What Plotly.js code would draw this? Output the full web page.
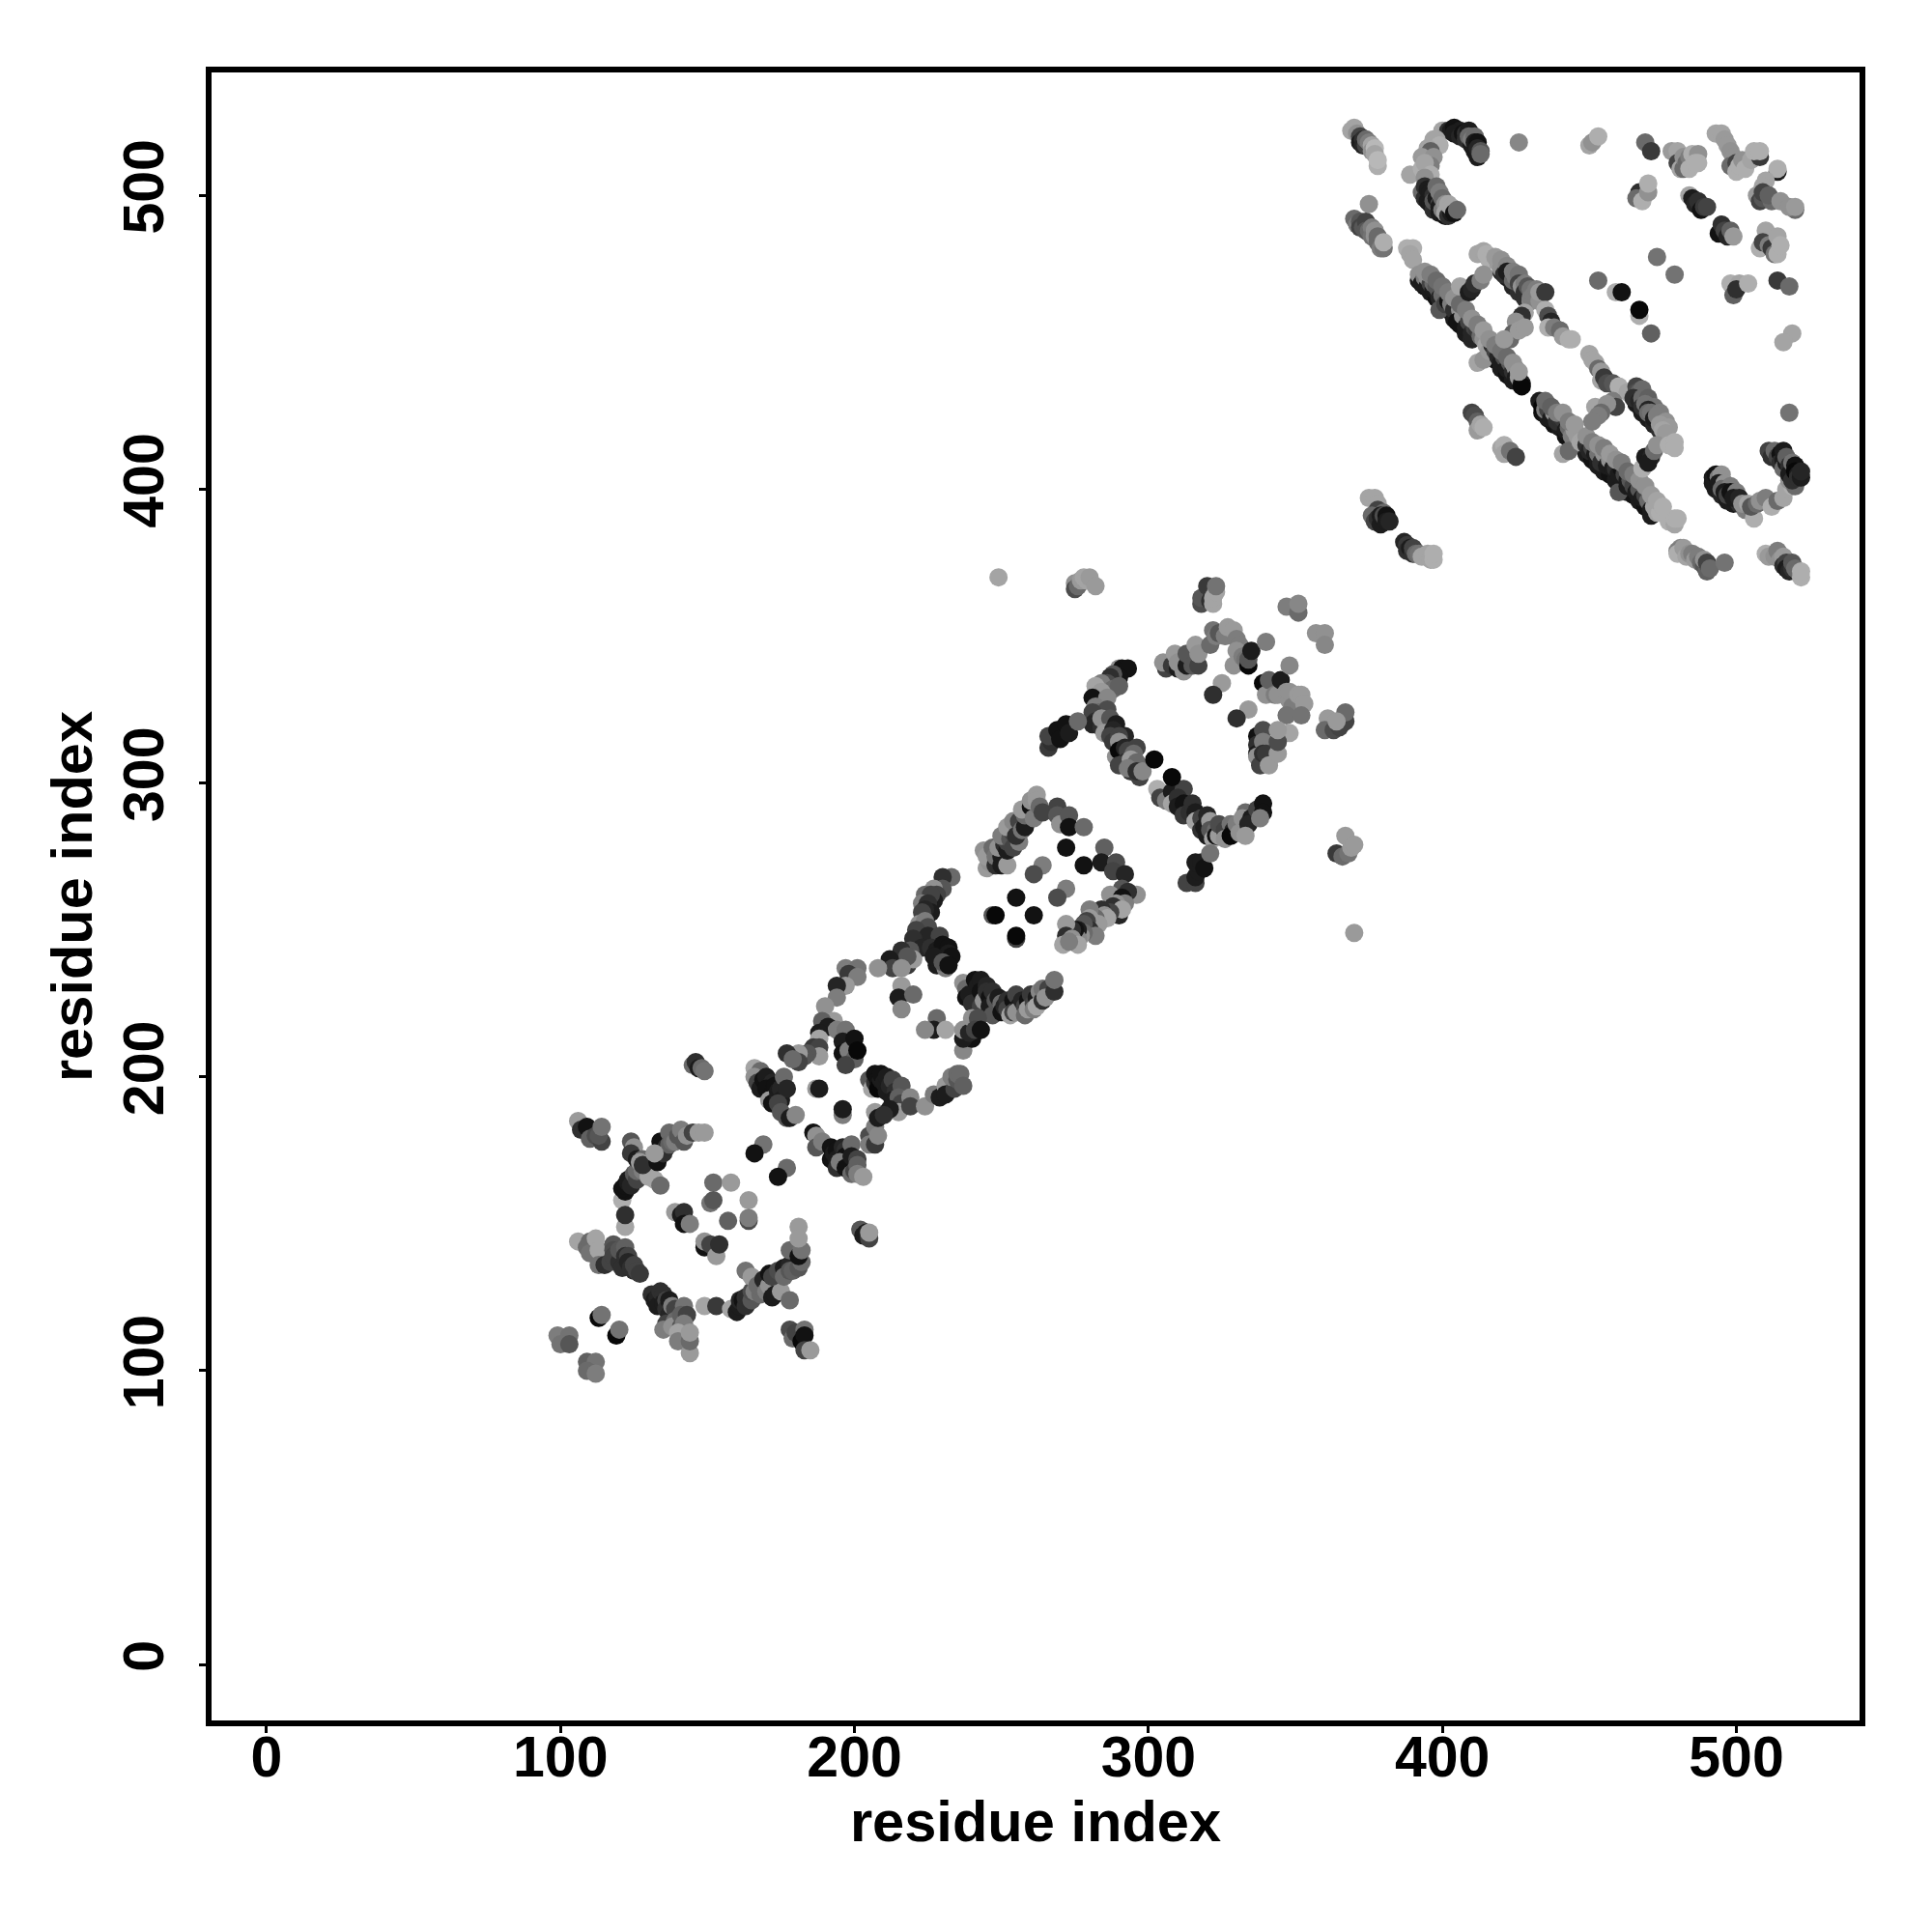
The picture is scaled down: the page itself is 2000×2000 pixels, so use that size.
<!DOCTYPE html>
<html><head><meta charset="utf-8">
<script src="https://cdn.plot.ly/plotly-3.0.1.min.js"></script>
<style>html,body{margin:0;padding:0;background:#fff}</style></head>
<body><div id="plot" style="width:2000px;height:2000px"></div>
<script>
// each row: residue i, residue j, shade score (0 dark .. 1 light)
const tailA=[[369,522,.8],[370,523,.8],[371,521,.7],[372,520,.3],[372,518,.1],[373,519,.2],[373,517,.15],[374,517,.3],[374,519,.5],[375,518,.6],[376,517,.8],[376,515,.7],[378,510,.85],[377,516,.9],[377,514,.8],[378,512,.9]];
const capTop=[[400,522,.8],[402,522,.2],[403,522,.1],[404,523,.05],[405,522,.05],[406,522,.1],[404,521,.1],[406,520,.15],[407,521,.05],[408,521,.2],[408,519,.2],[409,522,.1],[409,520,.5],[410,517,.1],[410,519,.6],[411,520,.5],[411,515,.1],[411,518,.1],[412,518,.05],[412,513,.1],[412,516,.15],[413,515,.4],[413,514,.5]];
const capSide=[[398,519,.8],[397,519,.8],[399,517,.85],[395,516,.8],[396,515,.45],[393,513,.75],[397,513,.7],[396,510,.6],[389,507,.8],[393,509,.85],[394,511,.8],[396,507,.85],[394,506,.7]];
const capLow=[[393,501,.5],[394,499,.2],[395,498,.1],[396,497,.1],[397,495,.2],[399,494,.1],[401,493,.05],[394,503,.2],[395,502,.1],[396,501,.1],[397,500,.2],[397,498,.4],[398,499,.1],[398,503,.5],[399,497,.3],[399,496,.1],[399,501,.6],[400,499,.5],[400,495,.6],[401,497,.7],[401,494,.8],[402,493,.2],[403,494,.1],[402,497,.8],[403,496,.8],[404,494,.05],[405,495,.5]];
const tailB=[[375,497,.7],[370,492,.5],[371,490,.6],[372,491,.4],[372,489,.3],[373,489,.4],[374,491,.3],[374,488,.4],[375,488,.5],[376,489,.6],[376,486,.55],[377,488,.7],[377,486,.7],[378,484,.5],[378,486,.5],[379,482,.6],[380,482,.55],[380,484,.85]];
const edgeDarkA=[[392,471,.1],[394,469,.05],[396,467,.1],[398,465,.05],[400,463,.1],[402,461,.05],[404,458,.1],[406,456,.05],[408,453,.1],[410,451,.15],[416,446,.1],[418,444,.05],[420,441,.1],[422,439,.05],[424,437,.1],[434,426,.05],[436,424,.1],[438,422,.05],[440,421,.1],[442,418,.05],[449,412,.1],[451,410,.05],[453,408,.1],[455,406,.1],[457,405,.05],[459,403,.1],[461,402,.1],[463,399,.1],[465,398,.05],[467,396,.1],[469,394,.05],[471,391,.1]];
const strandA1=[[388,482,.85],[390,482,.85],[389,480,.8],[390,478,.8],[392,473,.7],[393,470,.1],[394,472,.6],[395,469,.1],[395,472,.7],[396,470,.3],[397,468,.1],[397,470,.5],[398,469,.4],[399,467,.4],[399,465,.15],[400,466,.5],[399,461,.4],[401,463,.3],[402,464,.05],[403,463,.6],[404,461,.2],[405,462,.2],[406,461,.7],[405,457,.05],[407,459,.7],[408,455,.1],[409,457,.3],[410,453,.15],[411,455,.3],[412,454,.25],[412,443,.8],[414,444,.7],[413,452,.5],[414,451,.7],[415,449,.8],[416,447,.75],[417,449,.2],[418,447,.3],[419,445,.15],[420,443,.1],[421,445,.35],[422,441,.1],[423,443,.4],[424,440,.2],[425,441,.7],[425,438,.1],[426,438,.75],[427,436,.1],[427,435,0]];
const edgeLightA1=[[394,474,.7],[396,473,.6],[398,471,.5],[400,469,.55],[402,467,.6],[404,465,.7],[406,463,.5],[408,461,.6],[410,458,.7],[412,456,.6],[414,454,.75],[416,451,.7],[418,449,.6],[420,447,.55],[422,445,.5],[424,443,.7],[426,440,.75]];
const strandA2=[[433,430,.1],[434,428,0],[435,427,.6],[436,427,.3],[437,424,.1],[438,426,.7],[439,423,.2],[440,424,.2],[441,424,.25],[442,420,.1],[443,421,.5],[444,418,.6],[441,412,.8],[443,413,.5],[445,420,.75],[446,418,.75],[447,416,.8],[448,417,.8],[449,415,.2],[450,413,.15],[451,414,.3],[452,412,.1],[453,410,.1],[453,412,.55],[454,409,.2],[455,412,.7],[456,408,.1],[457,410,.7],[458,407,.1],[459,407,.2],[460,399,.4],[460,405,.1],[461,407,.05],[462,405,.3],[463,403,.1],[463,401,.1],[464,403,.4],[465,401,.3],[466,399,.1],[467,400,.4],[468,397,.1],[469,398,.3],[470,396,.5],[471,393,.1],[472,394,.8],[473,392,.8],[474,392,.85],[477,389,.85],[479,388,.8],[479,390,.85],[480,390,.85]];
const edgeLightA2=[[435,430,.5],[437,428,.45],[439,426,.6],[441,426,.7],[443,423,.6],[445,422,.75],[449,418,.7],[451,416,.6],[453,415,.7],[455,414,.6],[457,412,.75],[459,410,.7],[461,409,.6],[463,406,.5],[465,405,.6],[467,403,.7],[469,401,.7],[471,398,.75],[473,396,.8],[475,394,.85]];
const strandB1=[[412,480,.8],[414,481,.8],[415,480,.85],[416,478,.85],[420,474,.15],[422,472,.1],[424,469,.15],[426,467,.2],[428,465,.2],[419,477,.75],[418,479,.75],[420,475,.7],[420,478,.7],[421,473,.2],[422,476,.65],[423,473,.1],[422,474,.1],[424,471,.5],[424,474,.6],[425,472,.6],[426,473,.55],[426,470,.3],[427,469,.7],[428,470,.6],[428,467,.2],[429,469,.4],[430,464,.7],[430,468,.55],[430,465,.6],[431,466,.6],[432,468,.6],[433,464,.7],[433,467,.75],[435,467,.25]];
const linkB1=[[406,469,.8],[409,467,.1],[410,468,.15],[411,470,.2],[413,471,.6],[414,473,.7]];
const linkB2=[[428,460,.8],[427,459,.2],[425,457,.7],[424,453,.45],[423,451,.5],[421,451,.75],[426,454,.75],[428,455,.75]];
const strandB2=[[435,461,.85],[436,459,.35],[437,457,.15],[436,455,.85],[438,455,.6],[440,454,.5],[441,452,.75],[443,451,.85],[444,451,.85]];
const strandC=[[466,429,.1],[468,426,.1],[470,424,.1],[472,422,.15],[474,420,.2],[450,446,.8],[451,444,.8],[452,443,.8],[453,441,.5],[454,440,.75],[454,437,.8],[455,438,.25],[456,436,.35],[458,436,.4],[460,435,.85],[463,433,.8],[466,435,.3],[466,433,.35],[467,433,.45],[468,434,.5],[465,431,.2],[467,430,.15],[468,431,.5],[470,431,.45],[468,428,.2],[469,429,.55],[472,428,.55],[470,427,.15],[470,426,.5],[471,426,.55],[474,426,.6],[472,424,.1],[473,425,.6],[476,423,.7],[474,422,.75],[477,421,.75],[475,420,.8],[476,419,.75]];
const linkC=[[468,407,.85],[469,411,.1],[471,411,.15],[470,409,.1],[472,413,.5],[473,415,.7],[477,415,.85],[479,416,.85],[479,414,.85],[452,428,.8],[458,430,.6],[459,428,.3],[456,429,.7],[454,426,.5],[453,425,.6],[451,423,.6]];
const patchD=[[410,426,.3],[411,425,.35],[412,423,.45],[412,420,.75],[413,422,.8],[414,421,.85],[420,414,.8],[421,415,.85],[421,412,.8],[423,413,.55],[425,411,.3]];
const patchE=[[375,397,.8],[377,397,.8],[378,395,.8],[378,393,.3],[380,392,.5],[376,391,.5],[377,389,.3],[378,390,.2],[379,388,.1],[379,391,.1],[380,391,.35],[381,391,.05],[381,389,.1],[382,389,.15],[387,382,.15],[388,381,.25],[388,379,.2],[389,380,.1],[390,378,.2],[390,380,.3],[391,378,.5],[392,378,.55],[393,377,.8],[395,378,.8],[396,376,.8],[397,376,.85],[397,378,.85]];
const cornerSparse=[[426,518,.65],[450,517,.8],[451,518,.7],[453,520,.85],[469,518,.5],[471,515,.25],[467,501,.2],[466,499,.5],[468,498,.85],[470,501,.7],[470,504,.85],[473,479,.55],[479,473,.55],[453,471,.5],[459,467,.85],[461,467,.05],[467,459,.85],[467,461,0],[471,453,.45],[514,471,.25],[518,469,.5],[498,470,.85],[501,470,.8],[499,466,.45],[500,468,.2],[504,470,.85],[519,453,.8],[516,450,.8],[518,426,.55]];
const cornerTop=[[478,515,.75],[480,515,.8],[480,511,.3],[481,509,.8],[482,509,.5],[482,513,.7],[483,511,.5],[484,513,.6],[484,509,.85],[485,514,.85],[487,514,.7],[486,511,.85],[487,511,.85],[493,521,.8],[495,521,.8],[496,519,.75],[497,517,.75],[498,515,.7],[499,513,.7],[498,510,.5],[500,511,.3],[500,508,.85],[501,510,.85],[502,512,.7],[503,509,.85],[505,512,.8],[508,513,.25],[506,515,.85],[508,515,.85]];
const cornerRight=[[514,508,.1],[514,509,.85],[510,505,.8],[509,503,.8],[507,500,.75],[508,498,.3],[509,499,.4],[509,501,.3],[512,498,.5],[511,500,.45],[515,498,.7],[520,495,.5],[518,496,.7],[520,496,.75],[484,500,.8],[485,499,.1],[486,497,.15],[487,498,.2],[488,495,.05],[489,496,.25],[490,496,.3],[494,487,.05],[495,490,.2],[496,488,.3],[497,486,.15],[498,488,.45],[499,486,.75],[510,488,.8],[508,482,.85],[509,484,.3],[511,483,.6],[512,482,.25],[513,480,.55],[514,486,.8],[514,480,.85],[515,483,.85]];
const hookJ=[[492,402,.1],[493,400,.1],[495,398,.15],[497,396,.1],[499,395,.1],[501,395,.2],[503,393,.6],[492,404,.1],[493,405,.05],[494,404,.6],[495,405,.7],[494,402,.1],[496,402,.7],[495,400,.5],[498,401,.6],[496,399,.1],[497,398,.3],[498,399,.05],[500,399,.6],[499,397,.1],[501,397,.15],[506,390,.85],[502,395,.7],[504,395,.8],[505,394,.4],[507,395,.5],[508,396,.7],[510,397,.6],[512,394,.85],[514,396,.5],[516,397,.8],[517,400,.8],[519,401,.85],[511,413,.3],[512,411,.2],[513,413,.5],[514,411,.3],[515,412,.05],[515,409,.2],[516,410,.1],[516,407,.5],[516,413,.1],[517,409,.1],[517,411,.45],[518,408,.2],[518,403,.7],[518,405,.1],[520,401,.5],[519,403,.2],[519,409,.55],[520,408,.05],[520,406,0],[521,405,.1],[521,404,.2],[522,404,.1],[522,406,.15]];
const cornerLow=[[481,380,.65],[480,379,.6],[480,378,.85],[482,380,.75],[483,377,.8],[484,378,.7],[485,378,.6],[486,376,.75],[487,377,.6],[488,375,.5],[489,374,.4],[489,376,.7],[490,372,.45],[490,375,.3],[491,373,.5],[496,375,.55],[510,378,.85],[511,377,.75],[513,377,.7],[514,379,.6],[515,376,.7],[516,377,.75],[516,374,.2],[517,375,.3],[517,373,.1],[518,372,.15],[519,373,.2],[519,375,.4],[520,373,.5],[521,372,.5],[522,370,.85],[522,372,.85]];
const midTop=[[249,370,.8],[275,368,.7],[275,366,.35],[276,367,.5],[277,369,.75],[278,370,.8],[279,369,.8],[280,370,.75],[282,367,.75],[318,361,.35],[318,363,.4],[320,367,.25],[321,362,.2],[322,361,.8],[322,363,.8],[323,365,.8],[323,367,.55],[347,360,.6],[351,358,.5],[351,361,.65],[357,351,.7],[360,351,.7],[360,347,.65],[348,340,.65],[325,334,.75],[322,330,.2],[334,325,.75],[330,322,.2]];
const midArc=[[306,339,.3],[305,341,.7],[308,340,.25],[309,344,.75],[310,339,.1],[310,341,.7],[312,338,.7],[313,340,.1],[313,344,.4],[315,340,.4],[317,340,.3],[316,347,.75],[317,344,.7],[321,347,.5],[322,352,.55],[323,350,.6],[324,351,.4],[326,350,.6],[327,353,.75],[329,352,.75],[330,349,.6],[331,347,.6],[330,345,.7],[329,340,.7],[332,343,.6],[333,342,.55],[334,340,0],[334,342,.4],[335,345,.1],[340,348,.6]];
const midRight=[[339,334,0],[340,330,.7],[341,335,.45],[343,330,.6],[344,330,.7],[345,335,.1],[347,331,.7],[348,328,.7],[348,331,.7],[349,326,.6],[351,330,.75],[352,330,.75],[353,327,.75],[347,323,.55],[352,323,.55],[348,317,.8],[337,316,.05],[337,313,.2],[337,310,.1],[339,318,.35],[339,314,.6],[337,309,.7],[338,306,.3],[339,310,.2],[340,310,.25],[341,306,.75],[344,310,.75],[344,314,.35],[344,318,.75],[361,322,.75],[360,318,.5],[363,318,.35],[365,319,.3],[367,321,.3],[367,324,.5],[364,321,.75]];
const midStem=[[290,339,.7],[291,339,.05],[293,339,.05],[290,336,.05],[288,337,.4],[287,336,.2],[286,334,.35],[284,334,.6],[282,333,.8],[288,332,.5],[290,333,.45],[284,331,.75],[281,329,.05],[284,327,.1],[286,329,.65],[282,326,.6],[283,324,.5],[286,325,.35],[281,324,.3],[282,321,.2],[281,320,.15],[284,319,.2],[284,322,.7],[287,322,.4],[285,317,.75],[289,320,.1],[288,318,.15],[287,316,.3],[288,314,.25],[292,316,.15],[290,316,.3],[290,314,.7],[289,309,.7],[290,311,0],[292,312,.15],[293,311,.3],[296,312,.3],[295,310,.5],[292,307,.2],[290,306,.3],[294,308,.75],[296,307,.5],[294,304,.25],[293,305,.6],[297,302,.3],[296,304,.2],[298,304,.65],[302,308,0],[308,302,0],[266,312,.25],[267,314,.2],[266,316,.3],[269,318,.05],[270,315,.05],[272,320,.05],[273,317,.1],[276,321,.5]];
const midFoot=[[303,298,.85],[304,295,.3],[306,294,.6],[308,297,.1],[312,298,.3],[308,293,.8],[310,295,.2],[310,292,.1],[312,293,.05],[312,289,.25],[314,290,.2],[315,293,.2],[316,290,.1],[316,287,.8],[318,288,.3],[320,289,.15],[318,284,.2],[319,285,.1],[321,287,.75],[320,282,.1],[321,284,.4],[322,281,.8],[323,284,.5],[323,282,.05],[324,282,.75],[324,286,.35],[326,284,.3],[326,281,.7],[328,286,.55],[329,284,.15],[328,282,0],[330,286,.6],[331,283,.7],[333,290,.5],[332,288,.7],[335,288,.1],[334,286,.15],[333,282,.75],[337,291,.3],[339,293,.05],[339,290,.05],[338,288,.6],[364,276,.25],[366,275,.5],[367,282,.75],[368,276,.55],[369,278,.75],[370,279,.75],[370,249,.75],[313,266,.3],[316,266,.3],[316,268,.1],[317,270,.1],[316,273,.1],[318,273,.1],[319,271,.05],[321,276,.55]];
const diamondL=[[244,277,.7],[245,271,.75],[246,275,.15],[246,273,.7],[245,275,.75],[247,278,.5],[248,272,.2],[248,275,.55],[250,275,.1],[250,272,.1],[249,278,.7],[251,279,.2],[252,272,.75],[252,277,.1],[252,280,.3],[250,282,.6],[253,281,.4],[254,283,.3],[254,278,.3],[252,285,.75],[254,287,.65],[256,280,.6],[255,282,.2],[256,287,.3],[257,284,.55],[258,285,.1],[258,289,.5],[259,291,.3],[257,291,.75],[260,292,.05],[261,288,.6],[260,294,.7],[262,296,.75],[262,294,.75],[263,292,.5],[264,290,.3],[269,292,.3],[269,289,.4],[270,286,.7],[273,289,.4],[273,285,.05],[278,285,.5]];
const diamondIn=[[272,278,.05],[264,272,.6],[261,269,.35],[278,272,.05],[285,278,.45],[272,264,.6],[269,261,.35],[255,261,.05],[247,255,.4],[248,255,0],[261,255,.05],[255,247,.3],[255,248,0]];
const diamondR=[[284,273,.1],[289,273,.35],[288,270,.3],[292,269,.15],[291,264,.4],[294,262,.75],[296,262,.7],[287,262,.7],[293,263,.2],[291,261,.05],[292,259,.6],[289,259,.7],[288,258,.2],[290,255,.15],[291,257,.8],[287,256,.3],[284,257,.2],[285,255,.7],[286,254,.8],[282,254,.5],[283,252,.75],[280,257,.6],[280,254,.75],[279,253,.3],[280,250,.2],[278,252,.4],[282,248,.6],[278,249,.5],[277,248,.7],[276,250,.1],[276,247,.65],[275,250,.05],[274,250,.2],[272,252,.75],[272,248,.2],[274,247,.7],[271,245,.8],[276,245,.8],[273,246,.6]];
const stemUp=[[233,268,.5],[230,268,.2],[230,264,.4],[227,264,.7],[228,262,.3],[224,262,.5],[227,260,.1],[226,262,.3],[223,259,.6],[225,259,.2],[226,256,.1],[224,257,.15],[223,256,.3],[222,252,.7],[224,253,.6],[225,251,.35],[222,248,.1],[221,250,.3],[222,246,.4],[225,248,.15],[229,248,.3],[220,247,.2],[223,244,.15],[226,244,.2],[228,243,.1],[230,245,.05],[228,238,.1],[231,237,.6],[232,244,.05],[232,242,.1],[233,241,.05],[227,241,.1],[230,239,.4],[232,238,.05],[219,243,.4],[218,238,.25],[220,240,.75],[216,243,.2],[216,239,.25],[218,241,.4],[212,240,.1],[213,237,.3],[216,237,.7],[208,237,.7],[216,231,.75],[215,227,.1],[220,228,.5],[216,223,.65],[228,220,.5],[227,216,.1],[224,216,.65],[231,216,.8]];
const bridge=[[237,232,.7],[238,230,.5],[238,227,.05],[239,228,.1],[240,225,.2],[241,233,.05],[242,231,.1],[243,233,.1],[243,229,.05],[243,224,.3],[244,226,.7],[245,231,.15],[245,229,.2],[246,227,.05],[247,229,.2],[246,224,.1],[247,221,.4],[248,226,.4],[249,227,.1],[250,225,.5],[250,222,.05],[251,224,.15],[252,226,.2],[252,223,.3],[253,221,.8],[254,226,.05],[254,222,.3],[255,228,.3],[256,224,.1],[255,222,.7],[257,226,.15],[258,224,.3],[258,221,.5],[259,226,.05],[259,223,.75],[260,228,.25],[261,225,.3],[261,223,.6],[262,227,.1],[263,229,.65],[262,224,.8],[264,226,.2],[264,230,.55],[266,230,.3],[265,227,.7],[268,229,.2],[268,233,.55],[237,209,.65],[240,213,.05],[237,213,.1],[237,216,.7],[239,215,.15],[240,220,.7],[242,220,.35],[241,216,.3],[243,216,.05]];
const lobeUp=[[197,237,.6],[201,237,.55],[198,235,.25],[201,234,.6],[197,231,.75],[194,231,.15],[194,227,.6],[190,224,.7],[193,219,.75],[189,219,.45],[191,217,.1],[194,216,.6],[197,216,.55],[188,215,.1],[188,213,.8],[186,210,.25],[188,210,.3],[188,207,.75],[196,212,.1],[196,208,.05],[198,209,.6],[200,206,.45],[197,204,.3],[200,213,.05],[201,209,0],[184,208,.4],[183,207,.4],[181,208,.75],[181,205,.3],[177,208,.2],[179,206,.5]];
const lobeRight=[[205,199,.4],[206,196,.8],[207,198,.2],[207,201,.05],[208,199,.05],[208,196,0],[209,199,.1],[209,201,.05],[210,198,.1],[211,195,.1],[211,200,.1],[212,197,.15],[213,199,.3],[214,193,.3],[214,195,.2],[213,192,.1],[216,197,.4],[215,193,.45],[216,191,.3],[215,188,.75],[219,193,.65],[219,190,.3],[207,188,.75],[208,186,.1],[212,189,.1],[210,187,.2],[224,190,.7],[227,194,.6],[229,193,.1],[231,197,.75],[231,194,.1],[234,196,.3],[233,200,.6],[235,199,.4],[235,201,.5],[236,201,.5],[237,197,.45]];
const lobeLeft=[[166,203,.8],[168,202,.5],[166,200,.7],[167,198,.3],[168,196,.1],[169,199,.05],[170,200,.1],[171,197,.1],[172,198,.15],[170,196,.05],[172,194,.05],[173,197,.05],[171,192,.75],[172,191,.05],[174,195,.1],[174,193,.1],[175,196,.15],[175,192,.1],[176,200,.5],[177,196,.15],[174,191,.3],[175,188,.4],[177,186,.4],[178,186,.1],[180,187,.65],[187,196,.75],[188,196,.1],[196,187,.6],[196,189,.1]];
const lobeLow=[[186,181,.05],[187,180,.7],[187,176,.4],[189,178,.6],[192,176,.05],[192,172,.05],[193,174,.1],[194,175,.05],[194,172,.1],[194,169,.2],[196,176,.15],[197,175,.2],[197,173,.05],[195,171,.6],[197,169,.05],[199,177,.5],[199,173,.1],[199,167,.5],[200,168,.3],[201,172,.3],[201,170,.45],[201,167,.6],[203,166,.75],[205,180,.35],[207,183,.6],[205,177,.6],[207,177,.25],[208,180,.65],[202,148,.4],[203,146,.1],[204,147,.1],[205,145,.3],[205,147,.75],[169,177,.55],[166,174,.05],[177,169,.5],[174,166,.05],[145,204,.5],[146,205,.2],[147,203,.1],[148,203,.5],[149,202,.55]];
const wingUp=[[106,185,.75],[107,182,.2],[109,183,.05],[110,179,.45],[112,180,.35],[114,178,.3],[113,180,.4],[114,183,.55],[124,178,.4],[125,176,.7],[124,174,.25],[126,172,.1],[128,172,.5],[127,171,.75],[128,170,.2],[133,171,.05],[134,178,.05],[135,174,.2],[136,176,.2],[137,181,.5],[137,177,.45],[138,178,.5],[132,174,.75],[139,178,.6],[140,180,.4],[141,182,.6],[142,178,.4],[143,180,.7],[145,181,.3],[147,181,.75],[149,181,.75]];
const wingMid=[[122,149,.8],[121,158,.85],[122,153,.2],[122,161,.05],[121,162,.05],[122,163,.05],[123,164,.1],[123,165,.1],[124,163,.15],[125,167,.4],[126,165,.3],[126,168,.5],[128,168,.6],[130,166,.8],[132,165,.8],[134,163,.5],[139,154,.75],[141,153,.1],[142,154,.2],[142,150,.05],[144,150,.6],[152,164,.5],[158,164,.75],[151,157,.55],[152,158,.4],[164,158,.75],[157,151,.45],[164,151,.35],[164,152,.6],[149,142,.05],[149,144,.7],[151,143,.3],[153,139,.75],[154,143,.2]];
const wingLow=[[106,144,.8],[109,142,.5],[110,144,.5],[110,140,.55],[112,145,.8],[113,141,.8],[113,136,.55],[115,136,.2],[117,137,.3],[118,143,.4],[118,141,.35],[118,139,.3],[120,137,.2],[120,141,.4],[121,135,.2],[122,142,.45],[122,139,.2],[123,139,.3],[123,137,.15],[124,135,.2],[125,134,.2],[125,136,.3],[126,134,.3],[127,133,.25],[131,126,.2],[132,124,.1],[133,125,.15],[133,122,.1],[134,127,.2],[135,126,.2],[135,123,.1],[136,124,.3],[136,121,.2],[137,124,.1],[137,119,.15],[138,122,.6],[139,121,.3],[136,116,.3],[135,114,.6],[139,117,.5],[138,115,.7],[142,122,.55],[141,119,.45],[143,119,.3],[141,115,.4],[142,116,.6],[140,113,.8],[140,110,.6],[144,106,.75],[144,110,.5],[144,113,.75]];
const wingRight=[[149,122,.8],[153,122,.25],[158,121,.8],[160,120,.1],[161,122,.1],[161,124,.15],[162,124,.05],[163,122,.2],[163,125,.2],[164,125,.2],[165,124,.4],[165,127,.35],[166,127,.6],[168,126,.5],[163,134,.55],[165,132,.75],[167,129,.5],[169,131,.15],[170,127,.6],[171,129,.7],[172,125,.1],[173,126,.1],[175,127,.75],[178,124,.5],[171,133,.05],[172,132,.3],[174,134,.35],[176,135,.1],[176,132,.5],[178,136,.15],[178,134,.4],[179,134,.45],[181,135,.4],[182,137,.5],[178,141,.5],[181,139,.05],[182,141,.55],[181,149,.75],[181,145,.75]];
const wingFoot=[[113,118,0],[114,119,.55],[119,112,0],[120,114,.55],[99,112,.6],[103,112,.55],[100,109,.55],[103,109,.4],[109,103,.45],[112,103,.55],[109,100,.5],[112,99,.6],[178,114,.35],[179,111,.5],[180,113,.3],[182,110,0],[183,114,.55],[183,112,.05],[183,107,.3],[185,107,.75]];

const contacts=[].concat(wingFoot,wingLow,wingMid,wingRight,wingUp,lobeLow,lobeLeft,lobeUp,lobeRight,stemUp,bridge,diamondL,diamondIn,diamondR,midFoot,midStem,midArc,midRight,midTop,patchE,tailA,tailB,capTop,capSide,capLow,edgeDarkA,strandA1,edgeLightA1,strandA2,edgeLightA2,strandB1,linkB1,linkB2,strandB2,strandC,linkC,patchD,cornerSparse,cornerTop,cornerRight,hookJ,cornerLow);
const tickValues=[0,100,200,300,400,500];
const axisLabel="residue index";
const tickFont={family:'"Liberation Sans", Arial, sans-serif',size:59,color:'#000',weight:'bold'};
const titleFont={family:'"Liberation Sans", Arial, sans-serif',size:59.6,color:'#000',weight:'bold'};
const axisBase={showgrid:false,zeroline:false,showline:true,mirror:true,linewidth:6,linecolor:'#000',ticks:'outside',ticklen:7,tickwidth:3,tickcolor:'#000',tickmode:'array',tickvals:tickValues,ticktext:tickValues.map(String),tickfont:tickFont,automargin:false,autorange:false};
Plotly.newPlot('plot',[{type:'scatter',mode:'markers',x:contacts.map(r=>r[0]),y:contacts.map(r=>r[1]),
 marker:{size:19,color:contacts.map(r=>r[2]),cmin:0,cmax:1,colorscale:[[0,'rgb(8,8,8)'],[1,'rgb(203,203,203)']],showscale:false,line:{width:0}},hoverinfo:'skip'}],
 {width:2000,height:2000,paper_bgcolor:'#fff',plot_bgcolor:'#fff',showlegend:false,margin:{l:219,r:75,t:75,b:219,pad:0},
  xaxis:Object.assign({},axisBase,{range:[-18.7,541.9],ticklabelstandoff:-26,title:{text:axisLabel,font:titleFont,standoff:11}}),
  yaxis:Object.assign({},axisBase,{range:[-19,541.8],tickangle:-90,ticklabelstandoff:13,title:{text:axisLabel,font:titleFont,standoff:4}})},
 {displayModeBar:false,staticPlot:true});
</script></body></html>
